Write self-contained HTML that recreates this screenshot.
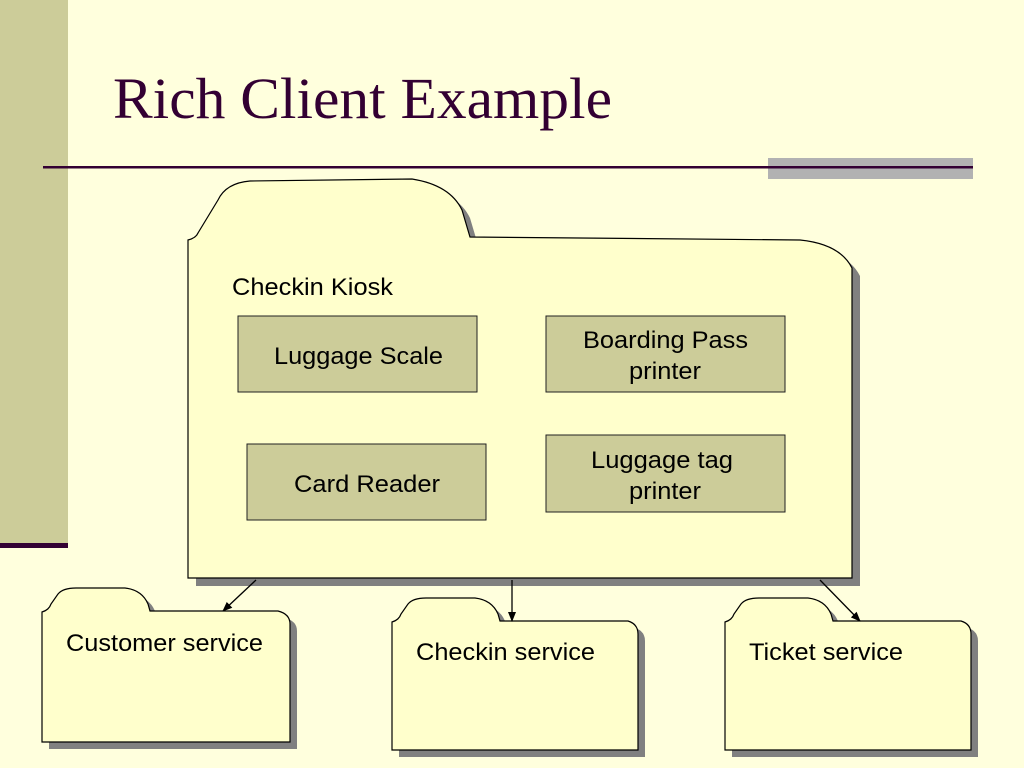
<!DOCTYPE html>
<html><head><meta charset="utf-8"><style>
html,body{margin:0;padding:0;background:#ffffdd;}
svg{display:block;}
text{font-family:"Liberation Sans",sans-serif;fill:#000;}
</style></head><body>
<svg width="1024" height="768" viewBox="0 0 1024 768" xmlns="http://www.w3.org/2000/svg">
<defs>
<marker id="ah" markerWidth="10" markerHeight="10" refX="9" refY="5" orient="auto" markerUnits="userSpaceOnUse">
<path d="M0,1 L10,5 L0,9 Z" fill="#000"/></marker>
</defs>
<rect width="1024" height="768" fill="#ffffdd"/>
<rect x="0" y="0" width="68" height="546" fill="#cccc99"/>
<rect x="0" y="543" width="68" height="5" fill="#330033"/>
<rect x="768" y="158" width="205" height="21" fill="#b2b2b2"/>
<rect x="43" y="166" width="930" height="2.5" fill="#330033"/>
<text x="113" y="118" textLength="499" lengthAdjust="spacingAndGlyphs" style="font-family:'Liberation Serif',serif;font-size:58px;fill:#330033">Rich Client Example</text>

<!-- big folder -->
<g>
<path transform="translate(8,8)" d="M188,240 Q196,238 198,233 L218,200 Q226,183 250,181 L412,179 Q450,185 462,210 L470,237 L800,240 Q840,244 852,268 L852,578 L188,578 Z" fill="#808080"/>
<path d="M188,240 Q196,238 198,233 L218,200 Q226,183 250,181 L412,179 Q450,185 462,210 L470,237 L800,240 Q840,244 852,268 L852,578 L188,578 Z" fill="#ffffcc" stroke="#000" stroke-width="1.2"/>
</g>
<text x="232" y="295" font-size="24" textLength="161" lengthAdjust="spacingAndGlyphs">Checkin Kiosk</text>

<rect x="238" y="316" width="239" height="76" fill="#cccc99" stroke="#222" stroke-width="1"/>
<text x="274" y="364" font-size="24" textLength="169" lengthAdjust="spacingAndGlyphs">Luggage Scale</text>
<rect x="546" y="316" width="239" height="76" fill="#cccc99" stroke="#222" stroke-width="1"/>
<text x="583" y="348" font-size="24" textLength="165" lengthAdjust="spacingAndGlyphs">Boarding Pass</text>
<text x="629" y="379" font-size="24" textLength="72" lengthAdjust="spacingAndGlyphs">printer</text>
<rect x="247" y="444" width="239" height="76" fill="#cccc99" stroke="#222" stroke-width="1"/>
<text x="294" y="492" font-size="24" textLength="146" lengthAdjust="spacingAndGlyphs">Card Reader</text>
<rect x="546" y="435" width="239" height="77" fill="#cccc99" stroke="#222" stroke-width="1"/>
<text x="591" y="468" font-size="24" textLength="142" lengthAdjust="spacingAndGlyphs">Luggage tag</text>
<text x="629" y="499" font-size="24" textLength="72" lengthAdjust="spacingAndGlyphs">printer</text>

<!-- small folders -->
<g>
<path transform="translate(7,7)" d="M42,612 Q49,610 51,604 L58,594 Q63,588 76,588 L125,588 Q142,590 148,604 L150,611 L278,611 Q290,614 290,624 L290,742 L42,742 Z" fill="#808080"/>
<path d="M42,612 Q49,610 51,604 L58,594 Q63,588 76,588 L125,588 Q142,590 148,604 L150,611 L278,611 Q290,614 290,624 L290,742 L42,742 Z" fill="#ffffcc" stroke="#000" stroke-width="1.2"/>
<text x="66" y="651" font-size="24" textLength="197" lengthAdjust="spacingAndGlyphs">Customer service</text>
</g>
<g>
<path transform="translate(7,7)" d="M392,622 Q399,620 401,614 L408,604 Q413,598 426,598 L475,598 Q492,600 498,614 L500,621 L628,621 Q638,624 638,634 L638,750 L392,750 Z" fill="#808080"/>
<path d="M392,622 Q399,620 401,614 L408,604 Q413,598 426,598 L475,598 Q492,600 498,614 L500,621 L628,621 Q638,624 638,634 L638,750 L392,750 Z" fill="#ffffcc" stroke="#000" stroke-width="1.2"/>
<text x="416" y="660" font-size="24" textLength="179" lengthAdjust="spacingAndGlyphs">Checkin service</text>
</g>
<g>
<path transform="translate(7,7)" d="M725,622 Q732,620 734,614 L741,604 Q746,598 759,598 L808,598 Q825,600 831,614 L833,621 L961,621 Q971,624 971,634 L971,750 L725,750 Z" fill="#808080"/>
<path d="M725,622 Q732,620 734,614 L741,604 Q746,598 759,598 L808,598 Q825,600 831,614 L833,621 L961,621 Q971,624 971,634 L971,750 L725,750 Z" fill="#ffffcc" stroke="#000" stroke-width="1.2"/>
<text x="749" y="660" font-size="24" textLength="154" lengthAdjust="spacingAndGlyphs">Ticket service</text>
</g>

<line x1="256" y1="580" x2="223" y2="611" stroke="#000" stroke-width="1.3" marker-end="url(#ah)"/>
<line x1="512" y1="580" x2="512" y2="621" stroke="#000" stroke-width="1.3" marker-end="url(#ah)"/>
<line x1="820" y1="580" x2="860" y2="621" stroke="#000" stroke-width="1.3" marker-end="url(#ah)"/>
</svg>
</body></html>
